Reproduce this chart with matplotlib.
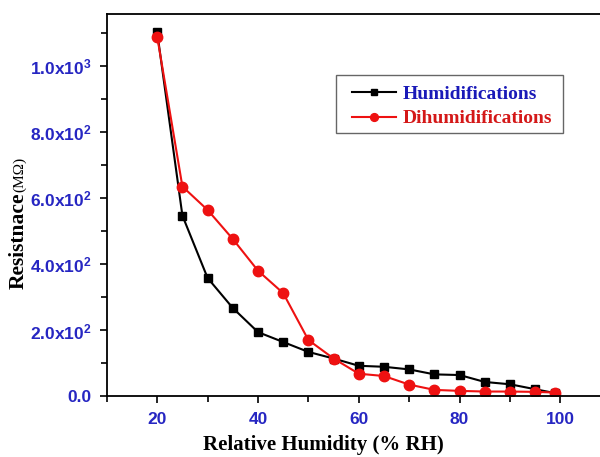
import matplotlib
matplotlib.use("Agg")
import matplotlib.pyplot as plt
from matplotlib.patches import Rectangle
from matplotlib.ticker import MultipleLocator, FixedLocator, FixedFormatter

# Relative humidity (% RH) and resistance (MOhm)
rh = [20, 25, 30, 35, 40, 45, 50, 55, 60, 65, 70, 75, 80, 85, 90, 95, 99]
humidification = [1103, 548, 359, 268, 195, 165, 135, 115, 93, 90, 82, 67, 65, 44, 37, 22, 10]
dehumidification = [1090, 636, 565, 477, 381, 313, 171, 115, 69, 62, 36, 20, 17, 15, 15, 14, 12]

x_ticks = [20, 40, 60, 80, 100]
y_ticks = [0, 200, 400, 600, 800, 1000]
y_tick_labels = ['0.0', r'2.0x10$^{2}$', r'4.0x10$^{2}$', r'6.0x10$^{2}$',
                 r'8.0x10$^{2}$', r'1.0x10$^{3}$']

plt.rcParams['mathtext.fontset'] = 'custom'
plt.rcParams['mathtext.rm'] = 'Liberation Sans:bold'
plt.rcParams['mathtext.bf'] = 'Liberation Sans:bold'
plt.rcParams['mathtext.default'] = 'bf'

tick_blue = '#2626c2'
serif = 'Liberation Serif'

fig = plt.figure(figsize=(6.0, 4.57), dpi=100)
ax = fig.add_axes([0.178, 0.1324, 0.84, 0.838])

ax.plot(rh, humidification, color='black', marker='s', markersize=6.3, linewidth=1.5,
        label='Humidifications')
ax.plot(rh, dehumidification, color='#ee1111', marker='o', markersize=7.5, linewidth=1.5,
        label='Dihumidifications')

ax.set_xlim(10, 110)
ax.set_ylim(0, 1160)

ax.xaxis.set_major_locator(FixedLocator(x_ticks))
ax.xaxis.set_minor_locator(MultipleLocator(10))
ax.yaxis.set_major_locator(FixedLocator(y_ticks))
ax.yaxis.set_major_formatter(FixedFormatter(y_tick_labels))
ax.yaxis.set_minor_locator(MultipleLocator(100))

ax.tick_params(which='both', direction='out', top=False, right=False, width=1.2)
ax.tick_params(which='major', length=5)
ax.tick_params(which='minor', length=4)
ax.tick_params(axis='both', which='major', labelsize=12.5, labelcolor=tick_blue, pad=6)
for lab in ax.get_xticklabels() + ax.get_yticklabels():
    lab.set_fontfamily('Liberation Sans')
    lab.set_fontweight('bold')

for sp in ax.spines.values():
    sp.set_linewidth(1.3)

# x label sits a bit left of the axes centre in the original
ax.set_xlabel('Relative Humidity (% RH)', fontfamily=serif, fontweight='bold',
              fontsize=15, labelpad=7)
ax.xaxis.set_label_coords(0.43, -0.1)

ylab = fig.text(0.031, 0.368, 'Resistnace', rotation=90, ha='center', va='bottom',
                fontfamily=serif, fontweight='bold', fontsize=15.5)
ax.annotate('(M\u03a9)', xy=(0.55, 1.0), xycoords=ylab, rotation=90,
            ha='center', va='bottom', fontfamily=serif, fontsize=11)

# legend without its own frame; the box is drawn separately to get the padding
leg = ax.legend(loc='upper left', bbox_to_anchor=(0.486, 0.812), borderaxespad=0,
                borderpad=0, frameon=False,
                prop={'family': serif, 'weight': 'bold', 'size': 14},
                handlelength=2.3, handletextpad=0.3, labelspacing=0.34,
                markerscale=0.75)
leg.get_texts()[0].set_color('#1a1ab8')
leg.get_texts()[1].set_color('#d41818')
ax.add_patch(Rectangle((0.4544, 0.688), 0.4504, 0.1514, transform=ax.transAxes,
                       facecolor='white', edgecolor='#666666', linewidth=1.0, zorder=4))
leg.set_zorder(5)

fig.savefig('out.png', dpi=100)
